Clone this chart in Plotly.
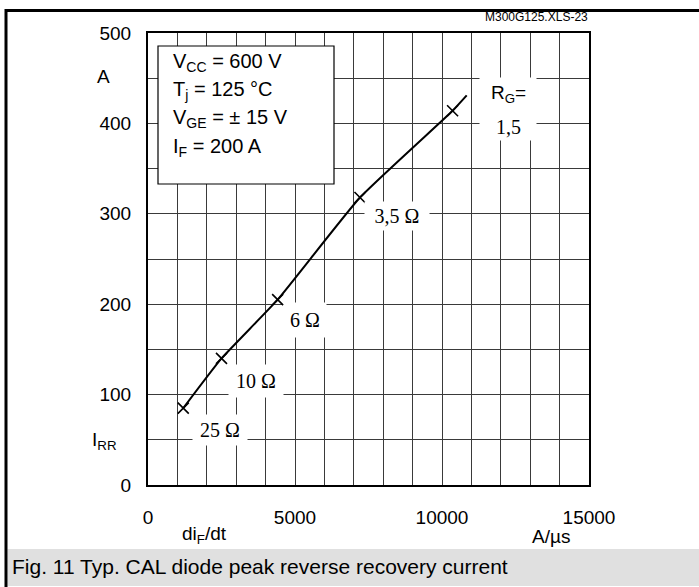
import plotly.graph_objects as go

# ---- data ----
rg_labels = ["25 Ω", "10 Ω", "6 Ω", "3,5 Ω", "1,5"]
didt_points = [1200, 2500, 4410, 7210, 10360]
irr_points = [85, 140, 205, 318, 414]
curve_didt = [1200, 2500, 4410, 7210, 10360, 10840]
curve_irr = [85, 140, 205, 318, 414, 431]

x_tick_vals = list(range(0, 15001, 1000))
x_tick_text = ["0" if v == 0 else (str(v) if v % 5000 == 0 else "") for v in x_tick_vals]
y_tick_vals = list(range(0, 501, 50))
y_tick_text = [str(v) if v % 100 == 0 else "" for v in y_tick_vals]

conditions = ["V<sub>CC</sub> = 600 V", "T<sub>j</sub> = 125 °C",
              "V<sub>GE</sub> = ± 15 V", "I<sub>F</sub> = 200 A"]

# ---- layout geometry (pixels) ----
W, H = 699, 587
L, R, T, B = 148, 589, 33, 485


def px(x):
    return (x - L) / (R - L)


def py(y):
    return (B - y) / (B - T)


SANS = "Liberation Sans, Arial, sans-serif"
SERIF = "Liberation Serif, Times New Roman, serif"

fig = go.Figure()
fig.add_trace(go.Scatter(x=curve_didt, y=curve_irr, mode="lines",
                         line=dict(color="black", width=2, shape="spline", smoothing=0.45),
                         hoverinfo="skip", showlegend=False))
fig.add_trace(go.Scatter(x=didt_points, y=irr_points, mode="markers",
                         marker=dict(symbol="x-thin", size=11, line=dict(color="black", width=1.6)),
                         showlegend=False))

shapes = [
    # outer frame top and left
    dict(type="line", xref="paper", yref="paper", x0=px(5), x1=px(699), y0=py(10.5), y1=py(10.5),
         line=dict(color="black", width=3)),
    dict(type="line", xref="paper", yref="paper", x0=px(6), x1=px(6), y0=py(9), y1=py(587),
         line=dict(color="black", width=3)),
    # caption bar
    dict(type="rect", xref="paper", yref="paper", x0=px(7.5), x1=px(699), y0=py(549), y1=py(586),
         fillcolor="#e0e0e0", line=dict(width=0), layer="below"),
    # conditions box
    dict(type="rect", xref="paper", yref="paper", x0=px(158), x1=px(334), y0=py(46), y1=py(184),
         fillcolor="white", line=dict(color="black", width=1.2), layer="above"),
]

annotations = []
for i, t in enumerate(conditions):
    annotations.append(dict(xref="paper", yref="paper", x=px(171), y=py(62 + i * 28.5), text=t,
                            showarrow=False, xanchor="left", yanchor="middle",
                            font=dict(family=SANS, size=20, color="black")))

# resistor labels with white backgrounds (break the grid)
label_boxes = [
    ("25 Ω", 220, 430, 54, 30),
    ("10 Ω", 256, 381, 54, 32),
    ("6 Ω", 305, 320, 42, 34),
    ("3,5 Ω", 397, 216, 64, 28),
]
for text, cx, cy, w, h in label_boxes:
    annotations.append(dict(xref="paper", yref="paper", x=px(cx), y=py(cy), text=text,
                            showarrow=False, xanchor="center", yanchor="middle",
                            width=w, height=h, bgcolor="white", borderpad=0,
                            font=dict(family=SERIF, size=20, color="black")))
# R_G box
annotations.append(dict(xref="paper", yref="paper", x=px(508), y=py(109), text="",
                        showarrow=False, xanchor="center", yanchor="middle",
                        width=56, height=62, bgcolor="white", borderpad=0))
annotations.append(dict(xref="paper", yref="paper", x=px(508), y=py(94), text="R<sub>G</sub>=",
                        showarrow=False, xanchor="center", yanchor="middle",
                        font=dict(family=SANS, size=19, color="black")))
annotations.append(dict(xref="paper", yref="paper", x=px(508), y=py(127), text=rg_labels[4],
                        showarrow=False, xanchor="center", yanchor="middle",
                        font=dict(family=SERIF, size=20, color="black")))

# axis titles / units
for text, cx, cy in [("A", 103, 76), ("I<sub>RR</sub>", 104, 441),
                     ("di<sub>F</sub>/dt", 204, 535), ("A/µs", 551, 536)]:
    annotations.append(dict(xref="paper", yref="paper", x=px(cx), y=py(cy), text=text,
                            showarrow=False, xanchor="center", yanchor="middle",
                            font=dict(family=SANS, size=19, color="black")))

annotations.append(dict(xref="paper", yref="paper", x=px(590), y=py(17.5), text="M300G125.XLS-23",
                        showarrow=False, xanchor="right", yanchor="middle",
                        font=dict(family=SANS, size=12, color="black")))
annotations.append(dict(xref="paper", yref="paper", x=px(10), y=py(566),
                        text="Fig. 11 Typ. CAL diode peak reverse recovery current",
                        showarrow=False, xanchor="left", yanchor="middle",
                        font=dict(family=SANS, size=21, color="black")))

fig.update_layout(
    width=W, height=H,
    margin=dict(l=L, r=W - R, t=T, b=H - B, pad=0),
    paper_bgcolor="white", plot_bgcolor="white",
    shapes=shapes, annotations=annotations,
    showlegend=False,
    xaxis=dict(range=[0, 15000], tickvals=x_tick_vals, ticktext=x_tick_text,
               showgrid=True, gridcolor="#3a3a3a", gridwidth=1,
               showline=True, linecolor="black", linewidth=2, mirror=True,
               ticks="", zeroline=False, ticklabelstandoff=14,
               tickfont=dict(family=SANS, size=19, color="black")),
    yaxis=dict(range=[0, 500], tickvals=y_tick_vals, ticktext=y_tick_text,
               showgrid=True, gridcolor="#3a3a3a", gridwidth=1,
               showline=True, linecolor="black", linewidth=2, mirror=True,
               ticks="", zeroline=False, ticklabelstandoff=11,
               tickfont=dict(family=SANS, size=19, color="black")),
)

fig.write_html("out.html", config={"displayModeBar": False},
               post_script="document.body.style.margin='0';document.body.style.padding='0';"
                           "document.body.style.overflow='hidden';")
